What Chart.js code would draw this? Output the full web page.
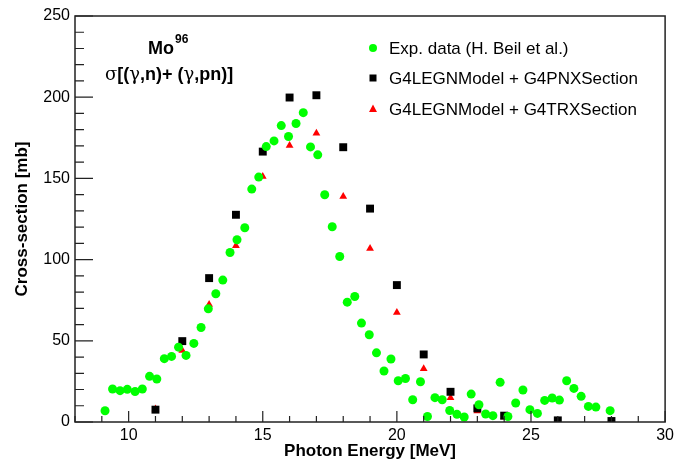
<!DOCTYPE html>
<html>
<head>
<meta charset="utf-8">
<script src="https://cdn.jsdelivr.net/npm/chart.js@4/dist/chart.umd.min.js"></script>
<style>
  html, body { margin: 0; padding: 0; background: #fff; }
  #wrap { width: 678px; height: 463px; }
</style>
</head>
<body>
<div id="wrap"><canvas id="xsChart" width="678" height="463"></canvas></div>
<script>
// experimental data (H. Beil et al.)
let expE = [9.12, 9.40, 9.68, 9.95, 10.24, 10.51, 10.78, 11.05, 11.33, 11.60, 11.86, 12.14, 12.43, 12.70,
  12.97, 13.25, 13.51, 13.78, 14.04, 14.33, 14.59, 14.85, 15.13, 15.42, 15.69, 15.96, 16.24, 16.51,
  16.78, 17.05, 17.31, 17.59, 17.87, 18.15, 18.43, 18.68, 18.97, 19.24, 19.52, 19.78, 20.05, 20.32,
  20.59, 20.88, 21.14, 21.42, 21.69, 21.97, 22.24, 22.51, 22.77, 23.06, 23.31, 23.58, 23.85, 24.14,
  24.43, 24.70, 24.96, 25.24, 25.51, 25.79, 26.06, 26.33, 26.60, 26.87, 27.14, 27.42, 27.95];
let expXS = [6.9, 20.3, 19.3, 20.1, 18.8, 20.3, 28.1, 26.5, 39.0, 40.4, 46.1, 41.0, 48.4, 58.2,
  69.7, 79.0, 87.4, 104.4, 112.2, 119.6, 143.4, 150.8, 169.6, 173.1, 182.5, 175.8, 183.8, 190.5,
  169.4, 164.5, 139.9, 120.2, 101.9, 73.8, 77.3, 60.9, 53.7, 42.6, 31.4, 38.8, 25.4, 26.8,
  13.7, 24.8, 3.4, 15.0, 13.7, 7.1, 4.7, 3.1, 17.2, 10.6, 4.9, 3.9, 24.4, 3.4,
  11.7, 19.7, 7.6, 5.3, 13.3, 14.8, 13.5, 25.4, 20.7, 15.8, 9.6, 9.2, 7.0];

// G4LEGNModel + G4PNXSection
let pnxE = [11, 12, 13, 14, 15, 16, 17, 18, 19, 20, 21, 22, 23, 24, 26, 28];
let pnxXS = [7.6, 49.8, 88.6, 127.6, 166.5, 199.8, 201.2, 169.2, 131.4, 84.3, 41.6, 18.6, 8.4, 3.9, 1.0, 0.6];

// G4LEGNModel + G4TRXSection
let trxE = [11, 12, 13, 14, 15, 16, 17, 18, 19, 20, 21, 22, 23, 24];
let trxXS = [8.0, 44.1, 72.4, 108.5, 151.1, 170.2, 177.8, 138.8, 106.8, 67.4, 32.8, 15.0, 6.8, 3.1];

let xTickLabels = [10, 15, 20, 25, 30];
let yTickLabels = [0, 50, 100, 150, 200, 250];
let legendLabels = ['Exp. data (H. Beil et al.)', 'G4LEGNModel + G4PNXSection', 'G4LEGNModel + G4TRXSection'];

function toPoints(xs, ys) {
  return xs.map((x, i) => ({ x: x, y: ys[i] }));
}

const FONT = 'Liberation Sans, Arial, Helvetica, sans-serif';
const GREEK = 'DejaVu Serif, Liberation Serif, serif';

// draws a row of text pieces, greek letters in a symbol-like font
function drawPieces(ctx, pieces, x, y) {
  pieces.forEach(p => {
    ctx.font = p[1];
    ctx.fillText(p[0], x, y);
    x += ctx.measureText(p[0]).width;
  });
}

// ROOT style frame with ticks drawn inside, plus the text boxes
let rootFrame = {
  id: 'rootFrame',
  afterDraw(chart) {
    const ctx = chart.ctx;
    const a = chart.chartArea;
    const xs = chart.scales.x, ys = chart.scales.y;
    ctx.save();
    ctx.strokeStyle = '#222';
    ctx.lineWidth = 1.5;
    ctx.strokeRect(a.left, a.top, a.right - a.left, a.bottom - a.top);

    ctx.lineWidth = 1.2;
    ctx.beginPath();
    for (let v = 8; v <= 30; v++) {
      let px = xs.getPixelForValue(v);
      let len = v % 5 === 0 ? 11 : 6;
      ctx.moveTo(px, a.bottom);
      ctx.lineTo(px, a.bottom - len);
    }
    for (let v = 0; v <= 250; v += 10) {
      let py = ys.getPixelForValue(v);
      let len = v % 50 === 0 ? 18 : 9;
      ctx.moveTo(a.left, py);
      ctx.lineTo(a.left + len, py);
    }
    ctx.stroke();

    // title text
    ctx.fillStyle = '#000';
    ctx.textBaseline = 'alphabetic';
    ctx.textAlign = 'left';
    const B = 'bold 18px ' + FONT;
    const G = '18px ' + GREEK;
    ctx.font = B;
    ctx.fillText('Mo', 148, 54);
    let w = ctx.measureText('Mo').width;
    ctx.font = 'bold 12px ' + FONT;
    ctx.fillText('96', 148 + w + 1, 43);
    drawPieces(ctx, [['\u03c3', G], ['[(', B], ['\u03b3', G], [',n)+ (', B], ['\u03b3', G], [',pn)]', B]], 105, 80);

    // legend
    let lx = 373, rows = [48, 78, 109];
    ctx.font = '17px ' + FONT;
    ctx.textBaseline = 'middle';
    rows.forEach((ry, i) => {
      ctx.fillText(legendLabels[i], 389, ry + 1);
    });
    ctx.fillStyle = '#00ff00';
    ctx.beginPath();
    ctx.arc(lx, rows[0], 4, 0, Math.PI * 2);
    ctx.fill();
    ctx.fillStyle = '#000';
    ctx.fillRect(lx - 3.5, rows[1] - 3.5, 7, 7);
    ctx.fillStyle = '#ff0000';
    ctx.beginPath();
    ctx.moveTo(lx, rows[2] - 4.5);
    ctx.lineTo(lx + 4, rows[2] + 3);
    ctx.lineTo(lx - 4, rows[2] + 3);
    ctx.closePath();
    ctx.fill();
    ctx.restore();
  }
};

let ctxChart = document.getElementById('xsChart');

let xsChart = new Chart(ctxChart, {
  type: 'scatter',
  data: {
    datasets: [
      {
        label: legendLabels[0],
        data: toPoints(expE, expXS),
        pointStyle: 'circle',
        pointRadius: 4.5,
        backgroundColor: '#00ff00',
        borderColor: '#00ff00',
        borderWidth: 0
      },
      {
        label: legendLabels[1],
        data: toPoints(pnxE, pnxXS),
        pointStyle: 'rect',
        pointRadius: 5.6,
        backgroundColor: '#000',
        borderColor: '#000',
        borderWidth: 0
      },
      {
        label: legendLabels[2],
        data: toPoints(trxE, trxXS),
        pointStyle: 'triangle',
        pointRadius: 4.5,
        backgroundColor: '#ff0000',
        borderColor: '#ff0000',
        borderWidth: 0
      }
    ]
  },
  options: {
    responsive: false,
    animation: false,
    events: [],
    layout: { padding: { left: 0, top: 16, right: 7, bottom: 0 } },
    plugins: {
      legend: { display: false },
      tooltip: { enabled: false }
    },
    scales: {
      x: {
        type: 'linear',
        min: 8,
        max: 30,
        grid: { display: false, drawTicks: false, tickLength: 0 },
        border: { display: false },
        afterBuildTicks(scale) { scale.ticks = xTickLabels.map(v => ({ value: v })); },
        ticks: { color: '#000', padding: 4, font: { family: FONT, size: 16 } },
        title: { display: true, text: 'Photon Energy [MeV]', color: '#000', padding: { top: 0, bottom: 1 },
          font: { family: FONT, size: 17, weight: 'bold' } },
        afterFit(scale) { scale.height = 41; }
      },
      y: {
        min: 0,
        max: 250,
        grid: { display: false, drawTicks: false, tickLength: 0 },
        border: { display: false },
        afterBuildTicks(scale) { scale.ticks = yTickLabels.map(v => ({ value: v })); },
        ticks: { color: '#000', padding: 5, font: { family: FONT, size: 16 } },
        title: { display: true, text: 'Cross-section [mb]', color: '#000', padding: { top: 12, bottom: 0 },
          font: { family: FONT, size: 17, weight: 'bold' } },
        afterFit(scale) { scale.width = 75; }
      }
    }
  },
  plugins: [rootFrame]
});
</script>
</body>
</html>
